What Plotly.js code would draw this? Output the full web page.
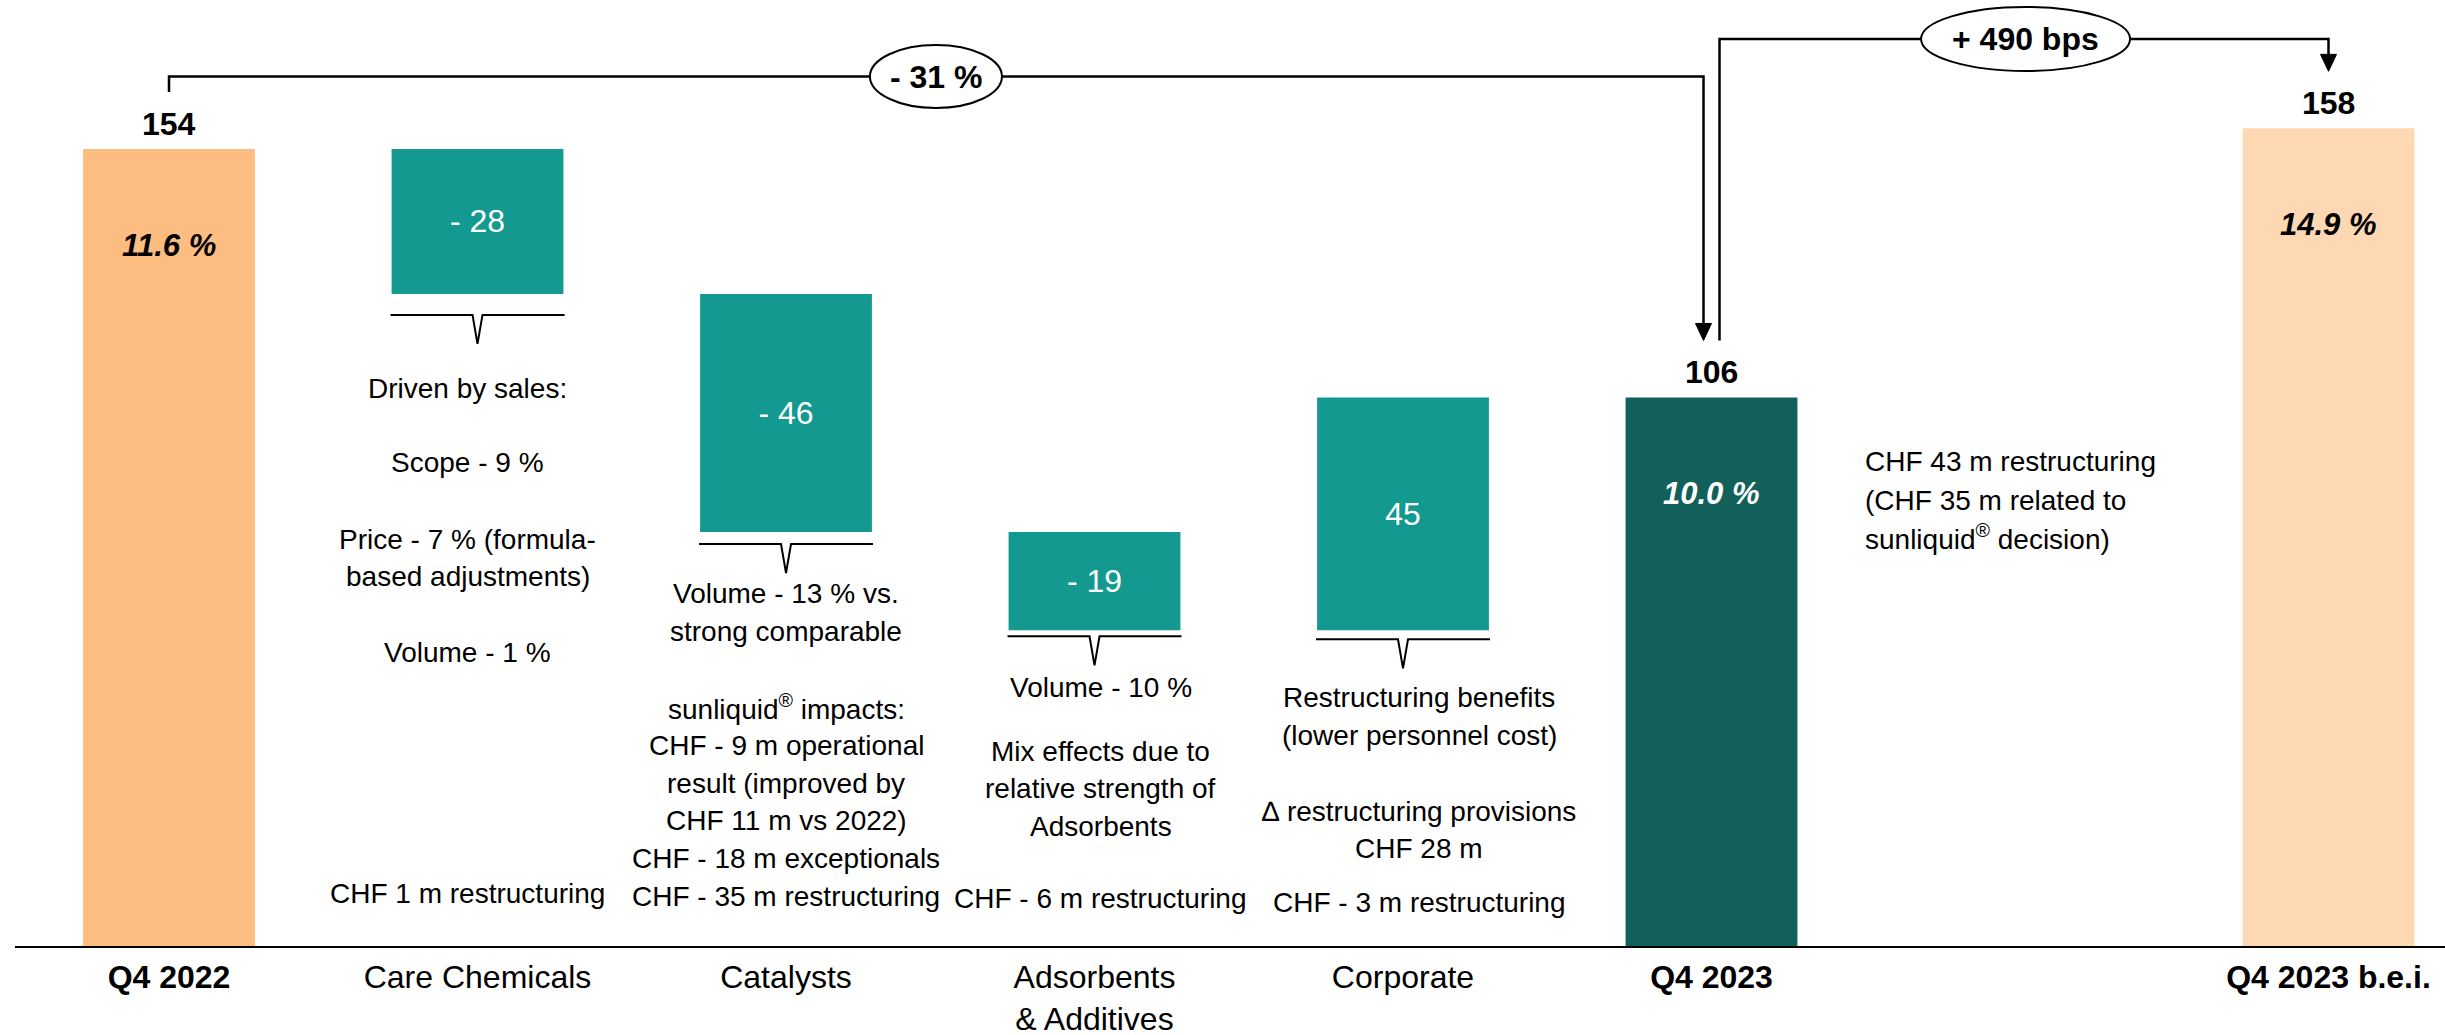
<!DOCTYPE html>
<html>
<head>
<meta charset="utf-8">
<script src="https://cdn.plot.ly/plotly-3.0.1.min.js"></script>
<style>html,body{margin:0;padding:0;background:#fff;}#chart{width:2445px;height:1035px;}</style>
</head>
<body>
<div id="chart"></div>
<script>
// ---------- DATA ----------
const categories = ['Q4 2022', 'Care Chemicals', 'Catalysts', 'Adsorbents<br>& Additives', 'Corporate', 'Q4 2023', 'Q4 2023 b.e.i.'];
const boldCategories = ['Q4 2022', 'Q4 2023', 'Q4 2023 b.e.i.'];
const slots = [0, 1, 2, 3, 4, 5, 7];            // category slots on the axis (slot 6 left empty)
const startValue = 154;                          // Q4 2022
const deltaValues = [-28, -46, -19, 45];         // Care Chemicals, Catalysts, Adsorbents & Additives, Corporate
const endValue = 106;                            // Q4 2023
const beiValue = 158;                            // Q4 2023 b.e.i.
const marginLabels = ['11.6 %', '10.0 %', '14.9 %'];
const changeLabels = ['- 31 %', '+ 490 bps'];

const notesCare = ['Driven by sales:', 'Scope - 9 %', 'Price - 7 % (formula-', 'based adjustments)', 'Volume - 1 %', 'CHF 1 m restructuring'];
const notesCatalysts = ['Volume - 13 % vs.', 'strong comparable', 'sunliquid<sup>®</sup> impacts:', 'CHF - 9 m operational', 'result (improved by', 'CHF 11 m vs 2022)', 'CHF - 18 m exceptionals', 'CHF - 35 m restructuring'];
const notesAdsorbents = ['Volume - 10 %', 'Mix effects due to', 'relative strength of', 'Adsorbents', 'CHF - 6 m restructuring'];
const notesCorporate = ['Restructuring benefits', '(lower personnel cost)', '\u2206 restructuring provisions', 'CHF 28 m', 'CHF - 3 m restructuring'];
const notesQ4 = ['CHF 43 m restructuring', '(CHF 35 m related to', 'sunliquid<sup>®</sup> decision)'];

// ---------- LAYOUT CONSTANTS ----------
const W = 2445, H = 1035;
const M = {l: 15, r: 0, t: 0, b: 89};
const plotH = H - M.t - M.b, plotW = W - M.l - M.r;
const yMax = 182.8;
const xRange = [-0.4992, 7.3776];
const pyu = plotH / yMax;                         // px per value unit
const pxu = plotW / (xRange[1] - xRange[0]);      // px per slot
const FONT = 'Arial, "Liberation Sans", sans-serif';
const C_START = '#FDBD80', C_DELTA = '#13998F', C_END = '#12605A', C_BEI = '#FDD8B3';
const pxTopToY = py => (plotH - py) / pyu;

// ---------- BARS ----------
const totX = [slots[0], slots[5], slots[6]];
const totY = [startValue, endValue, beiValue];
const totC = [C_START, C_END, C_BEI];

let run = startValue;
const dX = [], dBase = [], dH = [], dText = [];
deltaValues.forEach((v, i) => {
  dX.push(slots[i + 1]);
  dBase.push(Math.min(run, run + v));
  dH.push(Math.abs(v));
  dText.push(v < 0 ? '- ' + Math.abs(v) : String(v));
  run += v;
});

const traces = [
  {type: 'bar', x: totX, y: totY, width: 0.557, marker: {color: totC, line: {width: 0}}, hoverinfo: 'skip', showlegend: false},
  {type: 'bar', x: dX, y: dH, base: dBase, width: 0.557, marker: {color: C_DELTA, line: {width: 0}},
   text: dText, textposition: 'inside', insidetextanchor: 'middle', textangle: 0, constraintext: 'none',
   textfont: {family: FONT, size: 32, color: '#ffffff'}, hoverinfo: 'skip', showlegend: false}
];

// ---------- ANNOTATIONS ----------
const ann = [];
totX.forEach((x, i) => {
  ann.push({x: x, y: totY[i], xref: 'x', yref: 'y', text: '<b>' + totY[i] + '</b>', showarrow: false,
            yshift: 25, font: {family: FONT, size: 32, color: '#000'}});
  ann.push({x: x, y: totY[i], xref: 'x', yref: 'y', text: '<b><i>' + marginLabels[i] + '</i></b>', showarrow: false,
            yshift: -96, font: {family: FONT, size: 31, color: i === 1 ? '#ffffff' : '#000'}});
});

function addNotes(lines, ys, x, anchor) {
  lines.forEach((t, i) => ann.push({x: x, y: pxTopToY(ys[i]), xref: 'x', yref: 'y', text: t, showarrow: false,
    xanchor: anchor, yanchor: 'middle', font: {family: FONT, size: 28, color: '#000'}}));
}
addNotes(notesCare, [388, 462, 539, 576, 652, 893], 0.969, 'center');
addNotes(notesCatalysts, [593, 631, 707, 745, 783, 820, 858, 896], 2.0, 'center');
addNotes(notesAdsorbents, [687, 751, 788, 826, 898], 3.021, 'center');
addNotes(notesCorporate, [697, 735, 811, 848, 902], 4.052, 'center');
addNotes(notesQ4, [461, 500, 537], 5.491, 'left');

// ---------- SHAPES ----------
const shapes = [];
const LINE = {color: '#000', width: 2.5};
const yL1 = pxTopToY(76.5), yL2 = pxTopToY(39);
const gap = 57 / pyu, head = 17 / pyu;
const a1x = slots[5] - 8 / pxu, a2x = slots[5] + 8 / pxu;

// bracket 1: Q4 2022 -> Q4 2023
shapes.push({type: 'path', xref: 'x', yref: 'y', line: LINE,
  path: `M ${slots[0]},${startValue + gap} L ${slots[0]},${yL1} L ${a1x},${yL1} L ${a1x},${endValue + gap + head}`});
// bracket 2: Q4 2023 -> b.e.i.
shapes.push({type: 'path', xref: 'x', yref: 'y', line: LINE,
  path: `M ${a2x},${endValue + gap} L ${a2x},${yL2} L ${slots[6]},${yL2} L ${slots[6]},${beiValue + gap + head}`});
// arrowheads
[[a1x, endValue + gap], [slots[6], beiValue + gap]].forEach(([x, y]) => shapes.push({
  type: 'path', xref: 'x', yref: 'y', xsizemode: 'pixel', xanchor: x, ysizemode: 'pixel', yanchor: y,
  path: 'M -8,17 L 8,17 L 0,0 Z', fillcolor: '#000', line: {color: '#000', width: 1}}));
// ellipses
[[2.486, yL1, 66, 31.5], [6.018, yL2, 104.5, 32]].forEach(([x, y, rx, ry], i) => {
  shapes.push({type: 'circle', xref: 'x', yref: 'y', xsizemode: 'pixel', xanchor: x, x0: -rx, x1: rx,
    ysizemode: 'pixel', yanchor: y, y0: -ry, y1: ry, fillcolor: '#fff', line: {color: '#000', width: 2}});
  ann.push({x: x, y: y, xref: 'x', yref: 'y', text: '<b>' + changeLabels[i] + '</b>', showarrow: false,
    font: {family: FONT, size: 32, color: '#000'}});
});
// braces under delta bars
const braceGap = [21, 12, 6, 9];
dX.forEach((xc, i) => {
  const g = braceGap[i], hw = 0.282, d = 5 / pxu;
  shapes.push({type: 'path', xref: 'x', yref: 'y', ysizemode: 'pixel', yanchor: dBase[i], line: {color: '#000', width: 2},
    path: `M ${xc - hw},${-g} L ${xc - d},${-g} L ${xc},${-g - 29} L ${xc + d},${-g} L ${xc + hw},${-g}`});
});

const layout = {
  width: W, height: H, margin: M, paper_bgcolor: '#fff', plot_bgcolor: '#fff',
  barmode: 'overlay', showlegend: false,
  xaxis: {range: xRange, tickvals: slots,
          ticktext: categories.map(c => boldCategories.includes(c) ? '<b>' + c + '</b>' : c),
          tickfont: {family: FONT, size: 32, color: '#000'}, ticks: '', ticklabelstandoff: 2,
          showgrid: false, zeroline: false,
          showline: true, linecolor: '#000', linewidth: 2, fixedrange: true},
  yaxis: {range: [0, yMax], visible: false, showgrid: false, zeroline: false, fixedrange: true},
  annotations: ann, shapes: shapes
};

Plotly.newPlot('chart', traces, layout, {displayModeBar: false, staticPlot: true});
</script>
</body>
</html>
